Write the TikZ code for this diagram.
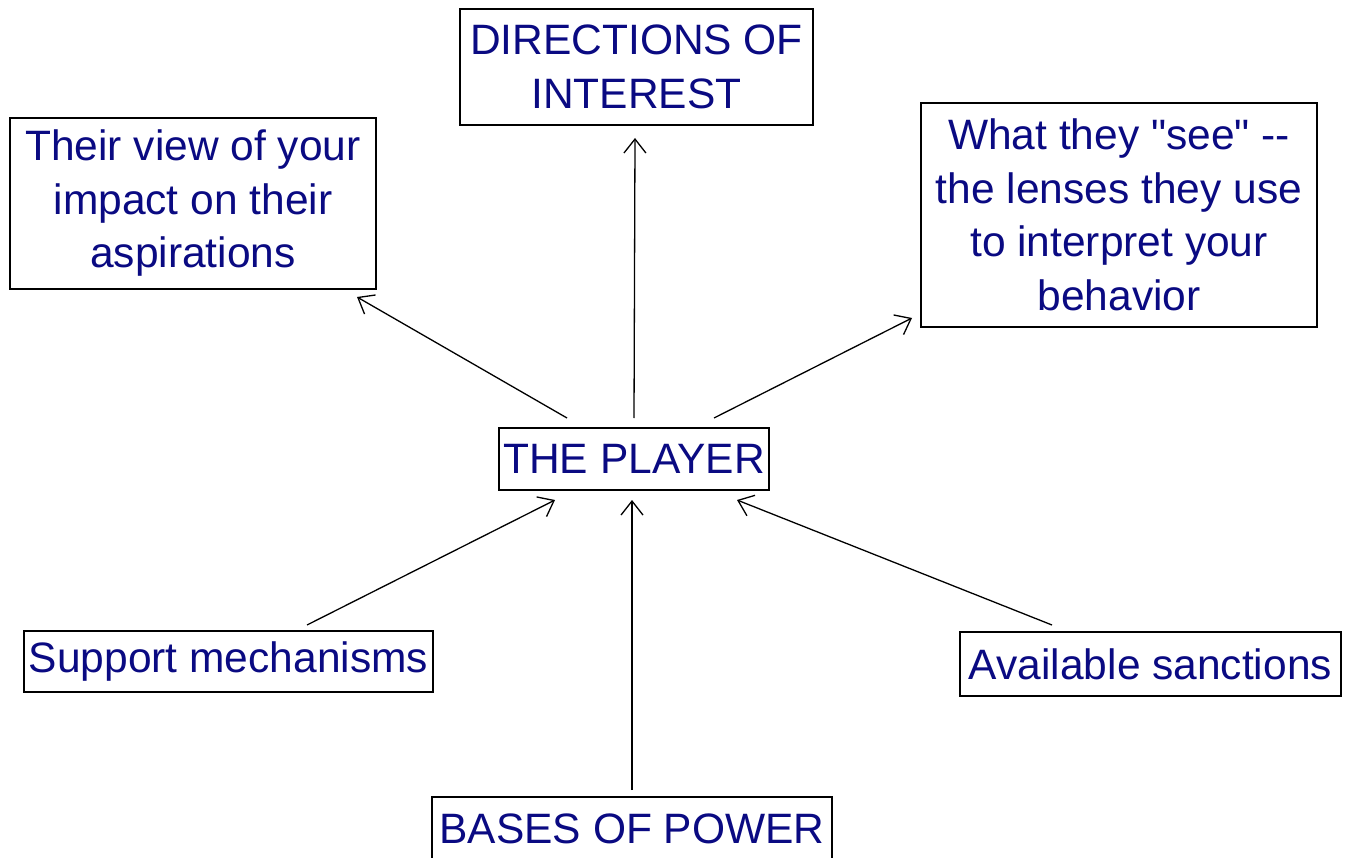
\documentclass[tikz,border=0pt]{standalone}
\usepackage{fontspec}
\setmainfont{Liberation Sans}[Ligatures=TeXOff]
\usetikzlibrary{arrows.meta}
\definecolor{txt}{RGB}{10,10,130}
\tikzset{
  box/.style={draw=black, line width=1.5pt, fill=white, text=txt, align=center, inner sep=0pt,
    font=\fontsize{42.5}{53.5}\selectfont},
  conn/.style={line width=1.3pt, -{Straight Barb[length=14pt,width=22pt,line width=1.3pt]}}
}
\begin{document}
\begin{tikzpicture}[x=1pt,y=-1pt]
\useasboundingbox (0,0) rectangle (1351,858);
\node[box, minimum width=353pt, minimum height=116pt] (dir) at (636.5,67) {DIRECTIONS OF\\INTEREST};
\node[box, minimum width=366pt, minimum height=171pt] (view) at (193,203.5) {Their view of your\\impact on their\\aspirations};
\node[box, minimum width=396pt, minimum height=224pt] (see) at (1119,215) {What they "see" --\\the lenses they use\\to interpret your\\behavior};
\node[box, minimum width=270pt, minimum height=62pt] (player) at (634,459) {THE PLAYER};
\node[box, minimum width=409pt, minimum height=61pt] (support) at (228.5,661.5) {Support mechanisms};
\node[box, minimum width=381pt, minimum height=64pt] (sanc) at (1150.5,664) {Available sanctions};
\node[box, minimum width=400pt, minimum height=64pt] (bases) at (632,829) {BASES OF POWER};
\coordinate (p1) at (567,418);
\coordinate (p2) at (634,418);
\coordinate (p3) at (714,418);
\coordinate (t1) at (357,297);
\coordinate (t2) at (635,138);
\coordinate (t3) at (912,318);
\coordinate (s1) at (307,625);
\coordinate (s2) at (632,790);
\coordinate (s3) at (1052,625);
\coordinate (h1) at (555,500);
\coordinate (h2) at (632,500);
\coordinate (h3) at (737,500);
\draw[conn] (p1) -- (t1);
\draw[conn] (p2) -- (t2);
\draw[conn] (p3) -- (t3);
\draw[conn] (s1) -- (h1);
\draw[conn] (s2) -- (h2);
\draw[conn] (s3) -- (h3);
\end{tikzpicture}
\end{document}
